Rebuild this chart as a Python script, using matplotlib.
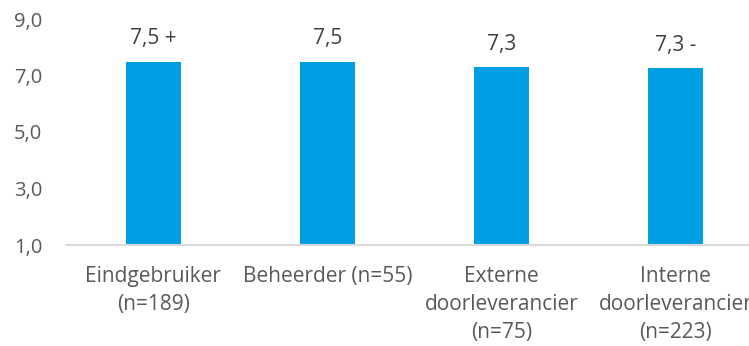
import matplotlib.pyplot as plt

plt.rcParams['font.family'] = ['Open Sans', 'DejaVu Sans']

# Gemiddelde rapportcijfers per doelgroep
categories = ['Eindgebruiker\n(n=189)', 'Beheerder (n=55)',
              'Externe\ndoorleverancier\n(n=75)', 'Interne\ndoorleverancier\n(n=223)']
scores = [7.49, 7.48, 7.30, 7.26]
markers = [' +', '', '', ' -']

fig = plt.figure(figsize=(7.49, 3.46), dpi=100)
# axes runs a bit past the right edge, like the original export
ax = fig.add_axes([66 / 749, (346 - 245) / 346, 697 / 749, (245 - 19) / 346])

x = range(len(categories))
bars = ax.bar(x, [s - 1 for s in scores], bottom=1, width=0.316, color='#009FE3')

for xi, s, m in zip(x, scores, markers):
    label = f'{s:.1f}'.replace('.', ',') + m
    ax.annotate(label, (xi, s), xytext=(0, 9), textcoords='offset points',
                ha='center', va='bottom', fontsize=15, color='#404040')

ax.set_xlim(-0.5, 3.5)
ax.set_ylim(1, 9)
ax.set_yticks([1, 3, 5, 7, 9])
ax.set_yticklabels(['1,0', '3,0', '5,0', '7,0', '9,0'], fontsize=14.5)
ax.set_xticks(list(x))
ax.set_xticklabels(categories, linespacing=1.45, fontsize=15)

for side in ['top', 'right', 'left']:
    ax.spines[side].set_visible(False)
ax.spines['bottom'].set_color('#D9D9D9')
ax.spines['bottom'].set_linewidth(1.5)

ax.tick_params(axis='both', length=0, colors='#595959')
ax.tick_params(axis='x', pad=15)
ax.tick_params(axis='y', pad=17)

fig.savefig('out.png', dpi=100)
